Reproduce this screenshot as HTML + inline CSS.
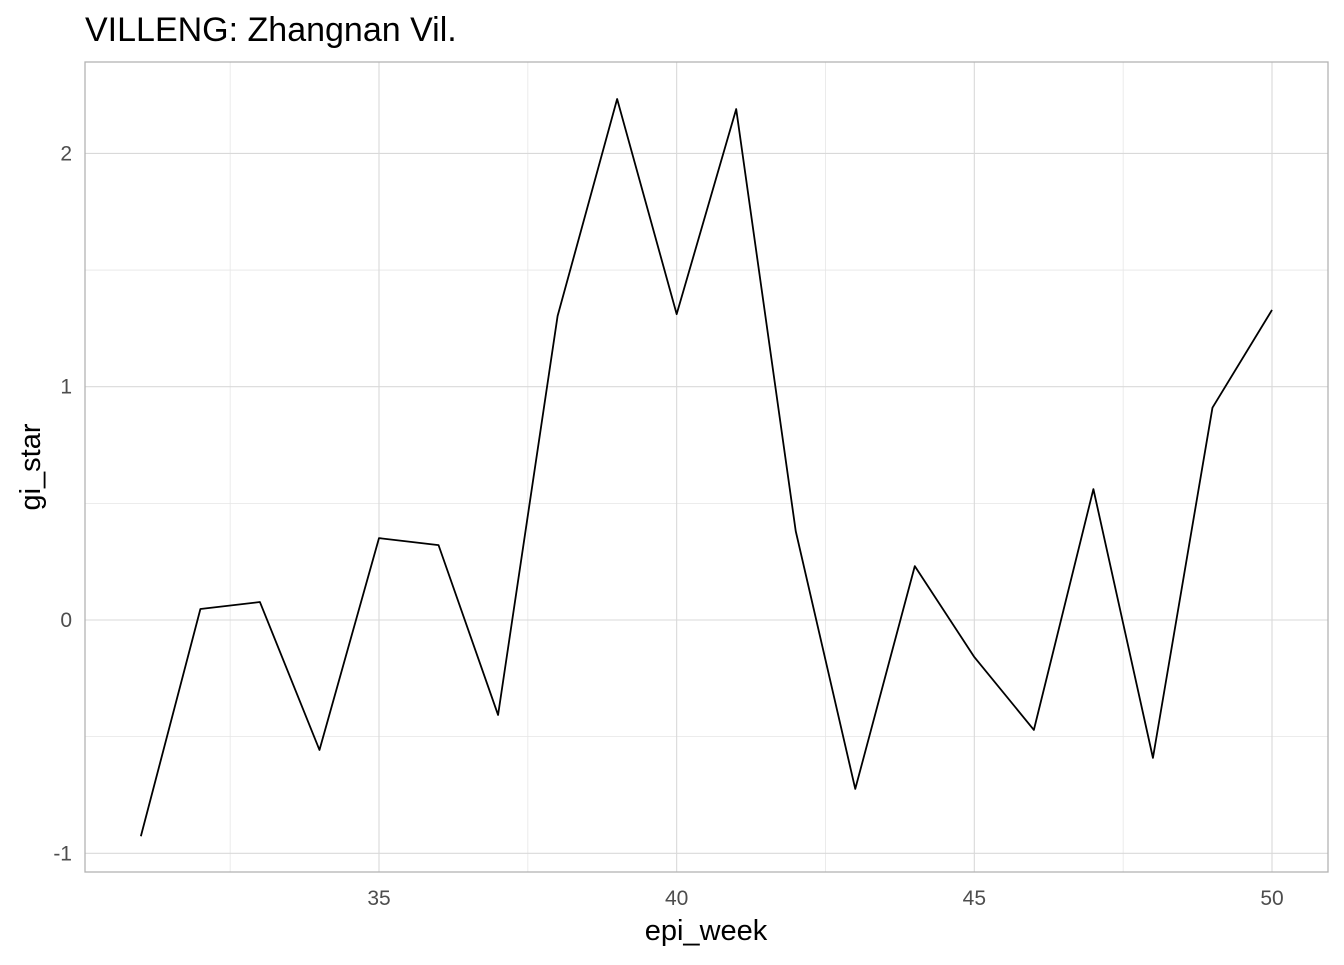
<!DOCTYPE html>
<html><head><meta charset="utf-8"><style>
body{margin:0;background:#fff;font-family:"Liberation Sans",sans-serif}
</style></head><body>
<svg id="chart" width="1344" height="960" xmlns="http://www.w3.org/2000/svg" font-family="Liberation Sans, sans-serif">
<rect width="1344" height="960" fill="#fff"/>
<text x="85" y="41" font-size="34" fill="#000">VILLENG: Zhangnan Vil.</text>
<g id="grid"></g>
<rect x="85" y="62" width="1243" height="810" fill="none" stroke="#b3b3b3" stroke-width="1.3"/>
<g id="marks"></g>
<text x="706" y="940" font-size="29" text-anchor="middle" fill="#000">epi_week</text>
<text transform="translate(40,467) rotate(-90)" font-size="29" text-anchor="middle" fill="#000">gi_star</text>
</svg>
<script>
const weeks=[31,32,33,34,35,36,37,38,39,40,41,42,43,44,45,46,47,48,49,50];
const giStar=[-0.927,0.047,0.077,-0.557,0.351,0.321,-0.407,1.303,2.233,1.311,2.19,0.381,-0.724,0.231,-0.159,-0.471,0.561,-0.591,0.91,1.329];
const xTicks=[35,40,45,50];
const yTicks=[-1,0,1,2];
const xMinor=[32.5,37.5,42.5,47.5];
const yMinor=[-0.5,0.5,1.5];
const ns="http://www.w3.org/2000/svg";
const xs=v=>379+(v-35)*(1272-379)/15;
const ys=v=>620-v*233.3;
const grid=document.getElementById('grid'),marks=document.getElementById('marks'),svg=document.getElementById('chart');
function line(x1,y1,x2,y2,c,w){const l=document.createElementNS(ns,'line');l.setAttribute('x1',x1);l.setAttribute('y1',y1);l.setAttribute('x2',x2);l.setAttribute('y2',y2);l.setAttribute('stroke',c);l.setAttribute('stroke-width',w);return l;}
xMinor.forEach(v=>{const l=line(xs(v),62,xs(v),872,'#e6e6e6',0.8);

grid.appendChild(l);});
yMinor.forEach(v=>{const l=line(85,ys(v),1328,ys(v),'#e6e6e6',0.8);

grid.appendChild(l);});
xTicks.forEach(v=>{const l=line(xs(v),62,xs(v),872,'#d9d9d9',1.1);

grid.appendChild(l);
const t=document.createElementNS(ns,'text');t.setAttribute('x',xs(v));t.setAttribute('y',905);t.setAttribute('font-size','21');t.setAttribute('fill','#4d4d4d');t.setAttribute('text-anchor','middle');t.textContent=v;

svg.appendChild(t);});
yTicks.forEach(v=>{const l=line(85,ys(v),1328,ys(v),'#d9d9d9',1.1);

grid.appendChild(l);
const t=document.createElementNS(ns,'text');t.setAttribute('x',72);t.setAttribute('y',ys(v)+7);t.setAttribute('font-size','21');t.setAttribute('fill','#4d4d4d');t.setAttribute('text-anchor','end');t.textContent=v;

svg.appendChild(t);});
const p=document.createElementNS(ns,'polyline');
p.setAttribute('points',weeks.map((w,i)=>xs(w)+','+ys(giStar[i])).join(' '));
p.setAttribute('fill','none');p.setAttribute('stroke','#000');p.setAttribute('stroke-width','1.8');p.setAttribute('stroke-linejoin','round');


marks.appendChild(p);
</script>
</body></html>
